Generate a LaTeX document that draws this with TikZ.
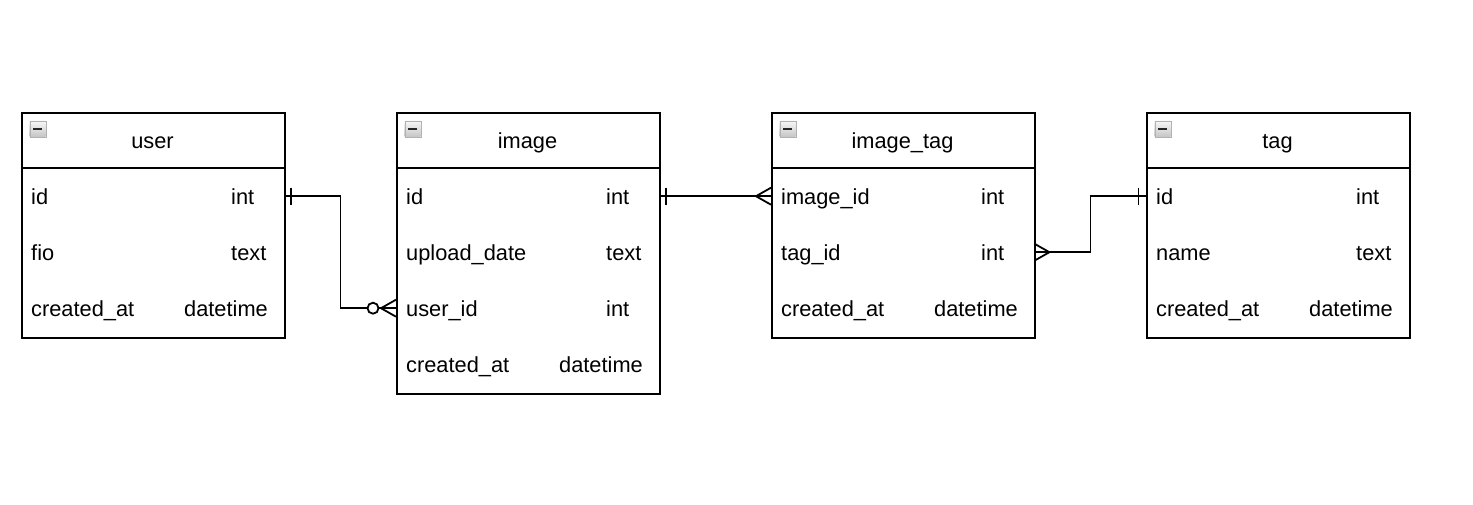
\documentclass[tikz,border=0pt]{standalone}
\usepackage{fontspec}
\setmainfont{Liberation Sans}
\tikzset{
  x=1pt, y=-1pt,
  tbl/.style={draw, line width=1.8pt, fill=white, anchor=north west, minimum width=263pt, inner sep=0pt},
  rowbox/.style={anchor=north west, minimum width=263pt, minimum height=56pt, inner sep=0pt},
  txt/.style={font=\fontsize{21.8}{24}\selectfont, inner sep=0pt, text height=16pt, text depth=0pt},
  link/.style={line width=1.8pt},
  icon/.style={draw=gray!60, top color=gray!5, bottom color=gray!45, minimum size=16pt, inner sep=0pt, anchor=north west}
}
\newcommand{\minusicon}[2]{%
  \node[icon] (#1) at (#2) {};
  \draw[line width=1.8pt, black!85] ([xshift=3.5pt]#1.west) -- ([xshift=-3.5pt]#1.east);
}
\begin{document}
\begin{tikzpicture}
\useasboundingbox (0,0) rectangle (1473,504);
\fill[white] (0,0) rectangle (1473,504);

% ---------- user ----------
\node[tbl, minimum height=225pt] (user) at (21,112) {};
\draw[line width=1.8pt] (21,168) -- (284,168);
\minusicon{userico}{29.5,120.5}
\node[txt] (userT) at (152.5,140) {user};
\node[rowbox] (user-id) at (21,168) {};
\node[rowbox] (user-fio) at (21,224) {};
\node[rowbox] (user-cr) at (21,280) {};
\node[txt, anchor=west] (u1a) at (31,196) {id};
\node[txt, anchor=west] (u1b) at (231,196) {int};
\node[txt, anchor=west] (u2a) at (31,252) {fio};
\node[txt, anchor=west] (u2b) at (231,252) {text};
\node[txt, anchor=west] (u3a) at (31,308) {created\_at};
\node[txt, anchor=east] (u3b) at (268,308) {datetime};

% ---------- image ----------
\node[tbl, minimum height=281pt] (image) at (396,112) {};
\draw[line width=1.8pt] (396,168) -- (659,168);
\minusicon{imgico}{404.5,120.5}
\node[txt] (imageT) at (527.5,140) {image};
\node[rowbox] (image-id) at (396,168) {};
\node[rowbox] (image-up) at (396,224) {};
\node[rowbox] (image-uid) at (396,280) {};
\node[rowbox] (image-cr) at (396,336) {};
\node[txt, anchor=west] (i1a) at (406,196) {id};
\node[txt, anchor=west] (i1b) at (606,196) {int};
\node[txt, anchor=west] (i2a) at (406,252) {upload\_date};
\node[txt, anchor=west] (i2b) at (606,252) {text};
\node[txt, anchor=west] (i3a) at (406,308) {user\_id};
\node[txt, anchor=west] (i3b) at (606,308) {int};
\node[txt, anchor=west] (i4a) at (406,364) {created\_at};
\node[txt, anchor=east] (i4b) at (643,364) {datetime};

% ---------- image_tag ----------
\node[tbl, minimum height=225pt] (imagetag) at (771,112) {};
\draw[line width=1.8pt] (771,168) -- (1034,168);
\minusicon{itico}{779.5,120.5}
\node[txt] (imagetagT) at (902.5,140) {image\_tag};
\node[rowbox] (it-iid) at (771,168) {};
\node[rowbox] (it-tid) at (771,224) {};
\node[rowbox] (it-cr) at (771,280) {};
\node[txt, anchor=west] (t1a) at (781,196) {image\_id};
\node[txt, anchor=west] (t1b) at (981,196) {int};
\node[txt, anchor=west] (t2a) at (781,252) {tag\_id};
\node[txt, anchor=west] (t2b) at (981,252) {int};
\node[txt, anchor=west] (t3a) at (781,308) {created\_at};
\node[txt, anchor=east] (t3b) at (1018,308) {datetime};

% ---------- tag ----------
\node[tbl, minimum height=225pt] (tag) at (1146,112) {};
\draw[line width=1.8pt] (1146,168) -- (1409,168);
\minusicon{tagico}{1154.5,120.5}
\node[txt] (tagT) at (1277.5,140) {tag};
\node[rowbox] (tag-id) at (1146,168) {};
\node[rowbox] (tag-name) at (1146,224) {};
\node[rowbox] (tag-cr) at (1146,280) {};
\node[txt, anchor=west] (g1a) at (1156,196) {id};
\node[txt, anchor=west] (g1b) at (1356,196) {int};
\node[txt, anchor=west] (g2a) at (1156,252) {name};
\node[txt, anchor=west] (g2b) at (1356,252) {text};
\node[txt, anchor=west] (g3a) at (1156,308) {created\_at};
\node[txt, anchor=east] (g3b) at (1393,308) {datetime};

% ---------- connectors ----------
% user.id -> image.user_id  (one to zero-or-many)
\draw[link] (user-id.east) -- ++(56,0) |- (image-uid.west);
\draw[link] ([xshift=6.5pt]user-id.east) ++(0,-8.5) -- ++(0,17);
\draw[link, fill=white] ([xshift=-23pt]image-uid.west) circle (5.5pt);
\draw[link] ([shift={(0,-8.5)}]image-uid.west) -- ([xshift=-15pt]image-uid.west) -- ([shift={(0,8.5)}]image-uid.west);

% image.id -> image_tag.image_id (one to many)
\draw[link] (image-id.east) -- (it-iid.west);
\draw[link] ([xshift=6.5pt]image-id.east) ++(0,-8.5) -- ++(0,17);
\draw[link] ([shift={(0,-8.5)}]it-iid.west) -- ([xshift=-15pt]it-iid.west) -- ([shift={(0,8.5)}]it-iid.west);

% image_tag.tag_id -> tag.id (many to one)
\draw[link] (it-tid.east) -- ++(56,0) |- (tag-id.west);
\draw[link] ([shift={(0,-8.5)}]it-tid.east) -- ([xshift=15pt]it-tid.east) -- ([shift={(0,8.5)}]it-tid.east);
\draw[link] ([xshift=-7.5pt]tag-id.west) ++(0,-8.5) -- ++(0,17);
\end{tikzpicture}
\end{document}
